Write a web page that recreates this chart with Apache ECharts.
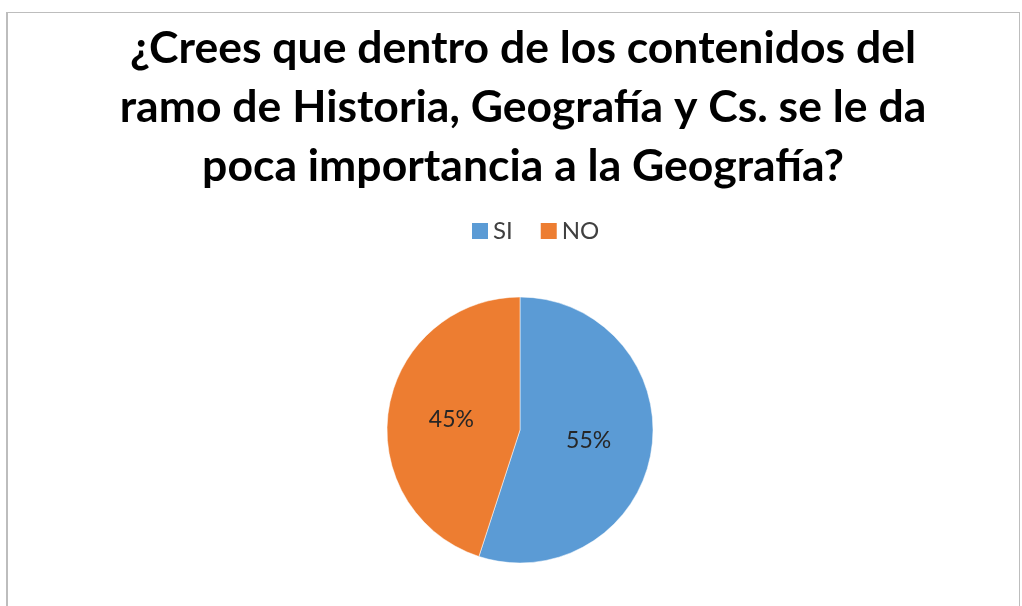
<!DOCTYPE html>
<html>
<head>
<meta charset="utf-8">
<script src="https://cdn.jsdelivr.net/npm/echarts@6/dist/echarts.min.js"></script>
<style>
  html, body { margin: 0; padding: 0; background: #fff; overflow: hidden; }
  #frame {
    position: absolute; left: 6px; top: 12px; width: 1014px; height: 640px;
    border: 1px solid #bdbdbd; border-left-width: 2px; box-sizing: border-box;
  }
  #chart { position: absolute; left: 0; top: 0; width: 1022px; height: 606px; }
</style>
</head>
<body>
<div id="frame"></div>
<div id="chart"></div>
<script>
const titleLines = [
  '¿Crees que dentro de los contenidos del',
  'ramo de Historia, Geografía y Cs. se le da',
  'poca importancia a la Geografía?'
];
const categories = ['SI', 'NO'];
const values = [55, 45];
const colors = ['#5B9BD5', '#ED7D31'];

const chart = echarts.init(document.getElementById('chart'));
chart.setOption({
  animation: false,
  color: colors,
  title: {
    text: titleLines.join('\n'),
    left: 518,
    textAlign: 'center',
    top: 14,
    textStyle: {
      fontFamily: 'Lato',
      fontWeight: 'bold',
      fontSize: 44.5,
      lineHeight: 59,
      color: '#000'
    }
  },
  legend: {
    data: categories,
    top: 214,
    left: 465,
    itemWidth: 18,
    itemHeight: 18,
    itemGap: 26,
    icon: 'rect',
    textStyle: { fontFamily: 'Lato', fontSize: 24, color: '#404040', padding: [0, 0, 0, -1] }
  },
  series: [{
    type: 'pie',
    center: [520, 430],
    radius: 133,
    startAngle: 90,
    clockwise: true,
    label: {
      position: 'inside',
      formatter: '{d}%',
      fontFamily: 'Lato',
      fontSize: 23,
      color: '#262626'
    },
    labelLine: { show: false },
    itemStyle: { borderColor: '#fff', borderWidth: 0.5 },
    data: categories.map((name, i) => ({ name, value: values[i] }))
  }]
});
</script>
</body>
</html>
